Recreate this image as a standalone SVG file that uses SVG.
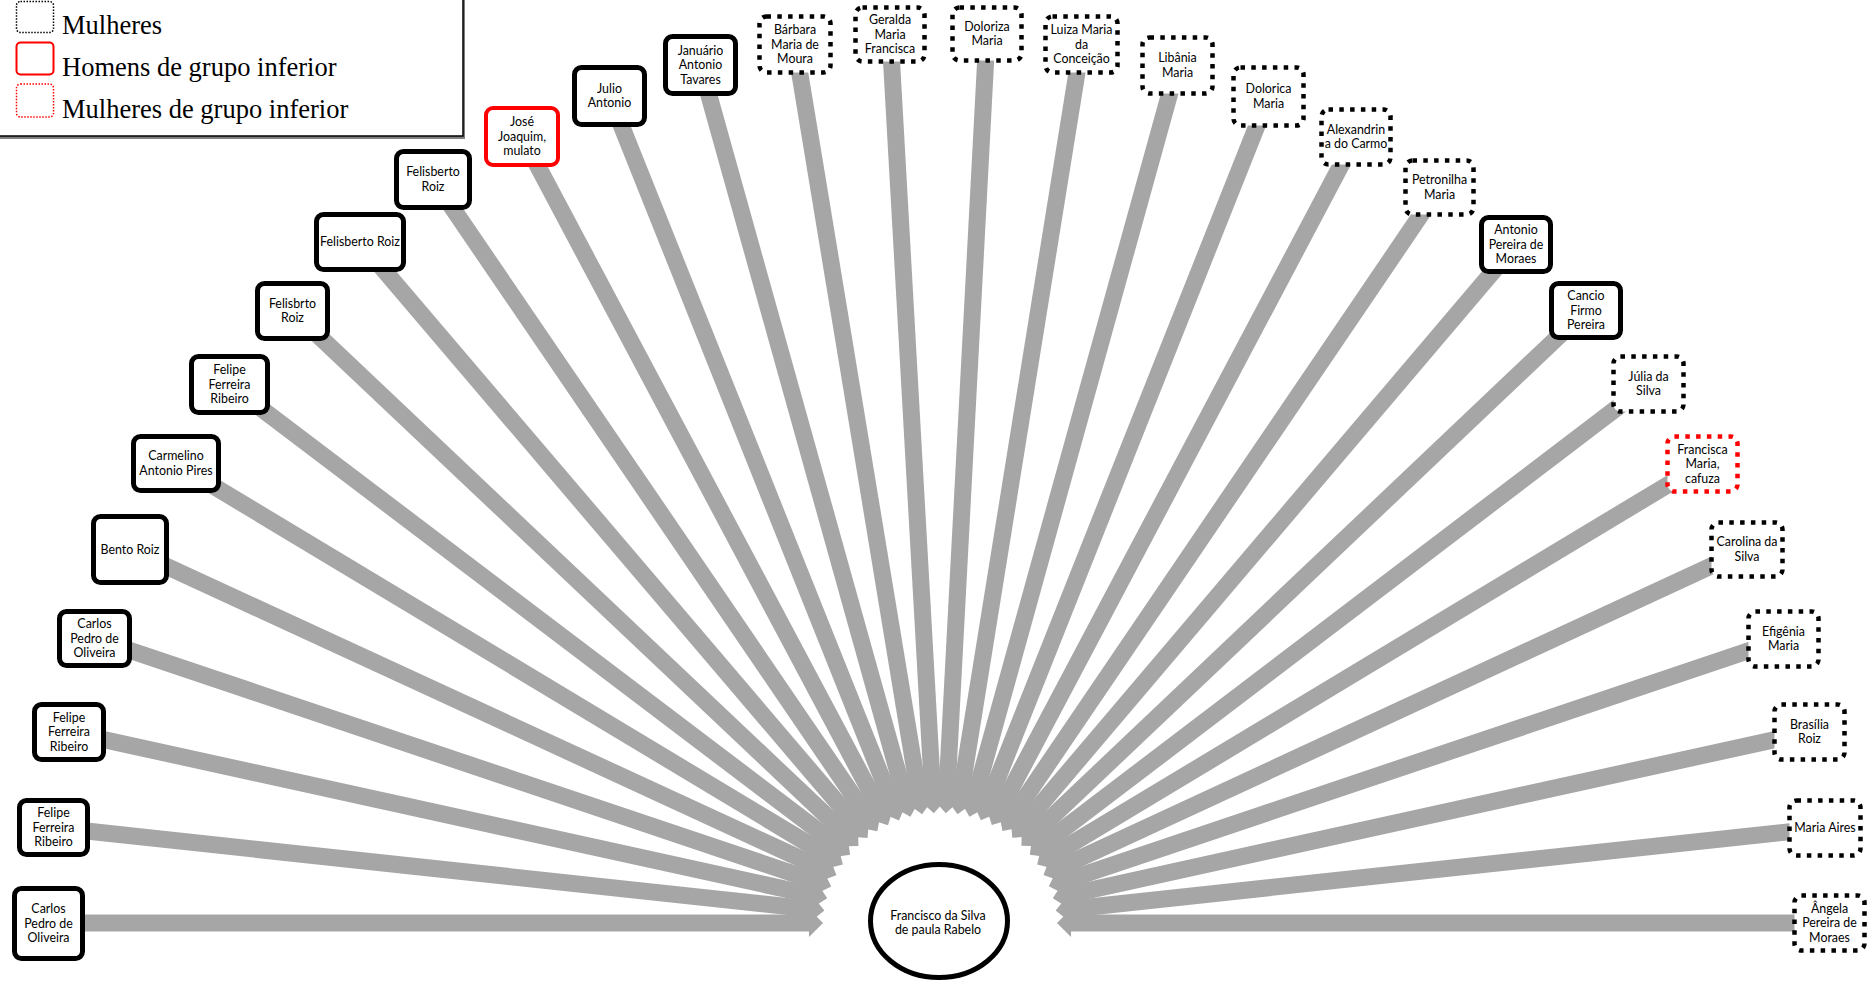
<svg xmlns="http://www.w3.org/2000/svg" width="1872" height="984" viewBox="0 0 1872 984">
<style>
.conn{stroke:#a6a6a6;stroke-width:17;fill:none}
.man{fill:#fff;stroke:#000;stroke-width:5}
.woman{fill:#fff;stroke:#000;stroke-width:4.5;stroke-dasharray:4.5 6.3}
.lowman{fill:#fff;stroke:#f00;stroke-width:4}
.lowwoman{fill:#fff;stroke:#f00;stroke-width:4.5;stroke-dasharray:4.5 6.3}
.lbl{font-family:Lato,"Liberation Sans",sans-serif;font-size:12.4px;fill:#000;text-anchor:middle}
.leg{font-family:"Liberation Serif",serif;font-size:26.5px;fill:#000}
</style>
<defs>
<marker id="ah" markerUnits="userSpaceOnUse" markerWidth="14" markerHeight="28" viewBox="0 0 14 28" refX="1" refY="14" orient="auto"><path d="M0,0 L14,14 L0,28 Z" fill="#a6a6a6"/></marker>
</defs>
<rect x="0" y="0" width="1872" height="984" fill="#fff"/>
<g id="legend">
<rect x="-1" y="-1" width="466" height="140" fill="#808080"/>
<rect x="-2" y="-2" width="465" height="138" fill="#fff" stroke="#000" stroke-width="1.5"/>
<rect x="16.5" y="1.5" width="37" height="31" rx="4" fill="none" stroke="#000" stroke-width="1.5" stroke-dasharray="1.5 1.5"/>
<text class="leg" x="62" y="34">Mulheres</text>
<rect x="16.5" y="42.5" width="37" height="32" rx="4" fill="none" stroke="#f00" stroke-width="2"/>
<text class="leg" x="62" y="76">Homens de grupo inferior</text>
<rect x="16.5" y="84" width="37" height="33" rx="4" fill="none" stroke="#f00" stroke-width="1.5" stroke-dasharray="1.5 1.5"/>
<text class="leg" x="62" y="118">Mulheres de grupo inferior</text>
</g>
<g id="connectors">
<line class="conn" marker-end="url(#ah)" transform="translate(940 923) rotate(180)" x1="892" y1="0" x2="130" y2="0"/>
<line class="conn" marker-end="url(#ah)" transform="translate(940 923) rotate(-173.85)" x1="891" y1="0" x2="129.3" y2="0"/>
<line class="conn" marker-end="url(#ah)" transform="translate(940 923) rotate(-167.63)" x1="891" y1="0" x2="128.5" y2="0"/>
<line class="conn" marker-end="url(#ah)" transform="translate(940 923) rotate(-161.40)" x1="892" y1="0" x2="127.8" y2="0"/>
<line class="conn" marker-end="url(#ah)" transform="translate(940 923) rotate(-155.24)" x1="892" y1="0" x2="127.1" y2="0"/>
<line class="conn" marker-end="url(#ah)" transform="translate(940 923) rotate(-148.98)" x1="891" y1="0" x2="126.4" y2="0"/>
<line class="conn" marker-end="url(#ah)" transform="translate(940 923) rotate(-142.84)" x1="891" y1="0" x2="125.8" y2="0"/>
<line class="conn" marker-end="url(#ah)" transform="translate(940 923) rotate(-136.62)" x1="891" y1="0" x2="125.2" y2="0"/>
<line class="conn" marker-end="url(#ah)" transform="translate(940 923) rotate(-130.42)" x1="894" y1="0" x2="124.7" y2="0"/>
<line class="conn" marker-end="url(#ah)" transform="translate(940 923) rotate(-124.29)" x1="899" y1="0" x2="124.2" y2="0"/>
<line class="conn" marker-end="url(#ah)" transform="translate(940 923) rotate(-117.99)" x1="890" y1="0" x2="123.8" y2="0"/>
<line class="conn" marker-end="url(#ah)" transform="translate(940 923) rotate(-111.78)" x1="890" y1="0" x2="123.5" y2="0"/>
<line class="conn" marker-end="url(#ah)" transform="translate(940 923) rotate(-105.60)" x1="890" y1="0" x2="123.3" y2="0"/>
<line class="conn" marker-end="url(#ah)" transform="translate(940 923) rotate(-99.37)" x1="890" y1="0" x2="123.1" y2="0"/>
<line class="conn" marker-end="url(#ah)" transform="translate(940 923) rotate(-93.22)" x1="889" y1="0" x2="123" y2="0"/>
<line class="conn" marker-end="url(#ah)" transform="translate(940 923) rotate(-86.97)" x1="889" y1="0" x2="123" y2="0"/>
<line class="conn" marker-end="url(#ah)" transform="translate(940 923) rotate(-80.85)" x1="889" y1="0" x2="123.1" y2="0"/>
<line class="conn" marker-end="url(#ah)" transform="translate(940 923) rotate(-74.52)" x1="889" y1="0" x2="123.3" y2="0"/>
<line class="conn" marker-end="url(#ah)" transform="translate(940 923) rotate(-68.32)" x1="889" y1="0" x2="123.5" y2="0"/>
<line class="conn" marker-end="url(#ah)" transform="translate(940 923) rotate(-62.11)" x1="889" y1="0" x2="123.8" y2="0"/>
<line class="conn" marker-end="url(#ah)" transform="translate(940 923) rotate(-55.82)" x1="889" y1="0" x2="124.2" y2="0"/>
<line class="conn" marker-end="url(#ah)" transform="translate(940 923) rotate(-49.67)" x1="890" y1="0" x2="124.7" y2="0"/>
<line class="conn" marker-end="url(#ah)" transform="translate(940 923) rotate(-43.48)" x1="890" y1="0" x2="125.2" y2="0"/>
<line class="conn" marker-end="url(#ah)" transform="translate(940 923) rotate(-37.27)" x1="890" y1="0" x2="125.8" y2="0"/>
<line class="conn" marker-end="url(#ah)" transform="translate(940 923) rotate(-31.05)" x1="890" y1="0" x2="126.4" y2="0"/>
<line class="conn" marker-end="url(#ah)" transform="translate(940 923) rotate(-24.84)" x1="889" y1="0" x2="127.1" y2="0"/>
<line class="conn" marker-end="url(#ah)" transform="translate(940 923) rotate(-18.61)" x1="890" y1="0" x2="127.8" y2="0"/>
<line class="conn" marker-end="url(#ah)" transform="translate(940 923) rotate(-12.39)" x1="890" y1="0" x2="128.5" y2="0"/>
<line class="conn" marker-end="url(#ah)" transform="translate(940 923) rotate(-6.13)" x1="890" y1="0" x2="129.3" y2="0"/>
<line class="conn" marker-end="url(#ah)" transform="translate(940 923) rotate(0)" x1="889" y1="0" x2="130" y2="0"/>
</g>
<g id="hub">
<ellipse cx="939" cy="921" rx="68.5" ry="56.5" fill="#fff" stroke="#000" stroke-width="5"/>
<text class="lbl"><tspan x="938" y="919.5">Francisco da Silva</tspan><tspan x="938" y="934">de paula Rabelo</tspan></text>
</g>
<g id="n1"><rect class="man" x="14.5" y="888.5" width="68" height="70" rx="7"/><text class="lbl"><tspan x="48.5" y="913">Carlos</tspan><tspan x="48.5" y="927.5">Pedro de</tspan><tspan x="48.5" y="942">Oliveira</tspan></text></g>
<g id="n2"><rect class="man" x="19.5" y="800.5" width="68" height="54" rx="7"/><text class="lbl"><tspan x="53.5" y="817">Felipe</tspan><tspan x="53.5" y="831.5">Ferreira</tspan><tspan x="53.5" y="846">Ribeiro</tspan></text></g>
<g id="n3"><rect class="man" x="34.5" y="704.5" width="69" height="55" rx="7"/><text class="lbl"><tspan x="69" y="721.5">Felipe</tspan><tspan x="69" y="736">Ferreira</tspan><tspan x="69" y="750.5">Ribeiro</tspan></text></g>
<g id="n4"><rect class="man" x="59.5" y="611.5" width="70" height="54" rx="7"/><text class="lbl"><tspan x="94.5" y="628">Carlos</tspan><tspan x="94.5" y="642.5">Pedro de</tspan><tspan x="94.5" y="657">Oliveira</tspan></text></g>
<g id="n5"><rect class="man" x="93.5" y="516.5" width="73" height="66" rx="7"/><text class="lbl"><tspan x="130" y="553.5">Bento Roiz</tspan></text></g>
<g id="n6"><rect class="man" x="133.5" y="436.5" width="85" height="54" rx="7"/><text class="lbl"><tspan x="176" y="460.25">Carmelino</tspan><tspan x="176" y="474.75">Antonio Pires</tspan></text></g>
<g id="n7"><rect class="man" x="191.5" y="356.5" width="76" height="56" rx="7"/><text class="lbl"><tspan x="229.5" y="374">Felipe</tspan><tspan x="229.5" y="388.5">Ferreira</tspan><tspan x="229.5" y="403">Ribeiro</tspan></text></g>
<g id="n8"><rect class="man" x="257.5" y="283.5" width="70" height="55" rx="7"/><text class="lbl"><tspan x="292.5" y="307.75">Felisbrto</tspan><tspan x="292.5" y="322.25">Roiz</tspan></text></g>
<g id="n9"><rect class="man" x="316.5" y="214.5" width="87" height="55" rx="7"/><text class="lbl"><tspan x="360" y="246">Felisberto Roiz</tspan></text></g>
<g id="n10"><rect class="man" x="396.5" y="151.5" width="73" height="56" rx="7"/><text class="lbl"><tspan x="433" y="176.25">Felisberto</tspan><tspan x="433" y="190.75">Roiz</tspan></text></g>
<g id="n11"><rect class="lowman" x="486" y="108" width="72" height="57" rx="7"/><text class="lbl"><tspan x="522" y="126">José</tspan><tspan x="522" y="140.5">Joaquim,</tspan><tspan x="522" y="155">mulato</tspan></text></g>
<g id="n12"><rect class="man" x="574.5" y="67.5" width="70" height="57" rx="7"/><text class="lbl"><tspan x="609.5" y="92.75">Julio</tspan><tspan x="609.5" y="107.25">Antonio</tspan></text></g>
<g id="n13"><rect class="man" x="665.5" y="36.5" width="70" height="57" rx="7"/><text class="lbl"><tspan x="700.5" y="54.5">Januário</tspan><tspan x="700.5" y="69">Antonio</tspan><tspan x="700.5" y="83.5">Tavares</tspan></text></g>
<g id="n14"><rect class="woman" x="759.5" y="16.5" width="71" height="56" rx="7"/><text class="lbl"><tspan x="795" y="34">Bárbara</tspan><tspan x="795" y="48.5">Maria de</tspan><tspan x="795" y="63">Moura</tspan></text></g>
<g id="n15"><rect class="woman" x="855.5" y="7.5" width="69" height="54" rx="7"/><text class="lbl"><tspan x="890" y="24">Geralda</tspan><tspan x="890" y="38.5">Maria</tspan><tspan x="890" y="53">Francisca</tspan></text></g>
<g id="n16"><rect class="woman" x="952.5" y="7.5" width="69" height="53" rx="7"/><text class="lbl"><tspan x="987" y="30.75">Doloriza</tspan><tspan x="987" y="45.25">Maria</tspan></text></g>
<g id="n17"><rect class="woman" x="1045.5" y="16.5" width="72" height="56" rx="7"/><text class="lbl"><tspan x="1081.5" y="34">Luiza Maria</tspan><tspan x="1081.5" y="48.5">da</tspan><tspan x="1081.5" y="63">Conceição</tspan></text></g>
<g id="n18"><rect class="woman" x="1142.5" y="37.5" width="70" height="56" rx="7"/><text class="lbl"><tspan x="1177.5" y="62.25">Libânia</tspan><tspan x="1177.5" y="76.75">Maria</tspan></text></g>
<g id="n19"><rect class="woman" x="1233.5" y="67.5" width="70" height="58" rx="7"/><text class="lbl"><tspan x="1268.5" y="93.25">Dolorica</tspan><tspan x="1268.5" y="107.75">Maria</tspan></text></g>
<g id="n20"><rect class="woman" x="1321.5" y="109.5" width="69" height="55" rx="7"/><text class="lbl"><tspan x="1356" y="133.75">Alexandrin</tspan><tspan x="1356" y="148.25">a do Carmo</tspan></text></g>
<g id="n21"><rect class="woman" x="1405.5" y="160.5" width="68" height="54" rx="7"/><text class="lbl"><tspan x="1439.5" y="184.25">Petronilha</tspan><tspan x="1439.5" y="198.75">Maria</tspan></text></g>
<g id="n22"><rect class="man" x="1481.5" y="217.5" width="69" height="54" rx="7"/><text class="lbl"><tspan x="1516" y="234">Antonio</tspan><tspan x="1516" y="248.5">Pereira de</tspan><tspan x="1516" y="263">Moraes</tspan></text></g>
<g id="n23"><rect class="man" x="1551.5" y="283.5" width="69" height="54" rx="7"/><text class="lbl"><tspan x="1586" y="300">Cancio</tspan><tspan x="1586" y="314.5">Firmo</tspan><tspan x="1586" y="329">Pereira</tspan></text></g>
<g id="n24"><rect class="woman" x="1613.5" y="356.5" width="70" height="55" rx="7"/><text class="lbl"><tspan x="1648.5" y="380.75">Júlia da</tspan><tspan x="1648.5" y="395.25">Silva</tspan></text></g>
<g id="n25"><rect class="lowwoman" x="1667.5" y="436.5" width="70" height="55" rx="7"/><text class="lbl"><tspan x="1702.5" y="453.5">Francisca</tspan><tspan x="1702.5" y="468">Maria,</tspan><tspan x="1702.5" y="482.5">cafuza</tspan></text></g>
<g id="n26"><rect class="woman" x="1711.5" y="522.5" width="71" height="54" rx="7"/><text class="lbl"><tspan x="1747" y="546.25">Carolina da</tspan><tspan x="1747" y="560.75">Silva</tspan></text></g>
<g id="n27"><rect class="woman" x="1748.5" y="611.5" width="70" height="55" rx="7"/><text class="lbl"><tspan x="1783.5" y="635.75">Efigênia</tspan><tspan x="1783.5" y="650.25">Maria</tspan></text></g>
<g id="n28"><rect class="woman" x="1774.5" y="704.5" width="70" height="55" rx="7"/><text class="lbl"><tspan x="1809.5" y="728.75">Brasília</tspan><tspan x="1809.5" y="743.25">Roiz</tspan></text></g>
<g id="n29"><rect class="woman" x="1789.5" y="800.5" width="71" height="55" rx="7"/><text class="lbl"><tspan x="1825" y="832">Maria Aires</tspan></text></g>
<g id="n30"><rect class="woman" x="1794.5" y="895.5" width="70" height="55" rx="7"/><text class="lbl"><tspan x="1829.5" y="912.5">Ângela</tspan><tspan x="1829.5" y="927">Pereira de</tspan><tspan x="1829.5" y="941.5">Moraes</tspan></text></g>
</svg>
